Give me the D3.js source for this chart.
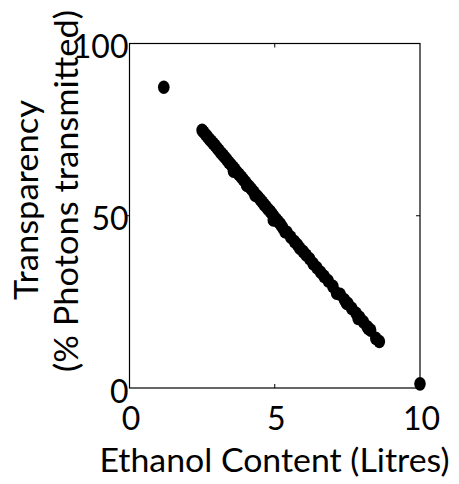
<!DOCTYPE html>
<html><head><meta charset="utf-8">
<script src="https://cdn.jsdelivr.net/npm/d3@7"></script>
<style>html,body{margin:0;padding:0;background:#fff;}svg{display:block;}</style>
</head><body>
<svg id="chart" width="459" height="484"></svg>
<script>
const ethanol = [1.18,
  2.50,2.55,2.62,2.68,2.75,2.81,2.88,2.95,3.02,3.08,3.15,3.22,3.28,3.35,3.42,3.50,3.56,3.58,3.63,3.70,
  3.77,3.85,3.92,4.00,4.03,4.06,4.13,4.20,4.28,4.32,4.35,4.42,4.50,4.57,4.63,4.70,4.77,4.85,4.92,4.95,
  4.98,5.05,5.12,5.20,5.27,5.35,5.42,5.55,5.68,5.78,5.86,5.98,6.08,6.20,6.32,6.45,6.58,6.70,6.84,7.00,
  7.13,7.25,7.40,7.47,7.52,7.65,7.80,7.87,7.92,8.05,8.18,8.22,8.30,8.48,8.60,
  10.0];
const transparency = [87.3,
  74.8,74.3,73.6,73.0,72.2,71.7,71.0,70.4,69.6,69.0,68.2,67.6,67.0,66.3,65.5,64.8,64.1,62.9,63.5,62.6,
  62.0,61.2,60.5,59.7,58.9,58.9,58.4,57.7,56.9,56.0,56.1,55.5,54.7,54.0,53.3,52.7,51.9,51.2,50.4,48.8,
  49.7,49.0,48.3,47.5,46.6,45.4,45.2,43.8,42.5,41.6,40.6,39.6,38.6,37.5,36.1,34.9,33.6,32.4,31.1,29.5,
  27.5,27.2,25.6,24.6,24.5,23.1,21.7,20.2,20.5,19.2,17.8,17.3,16.8,14.4,13.5,
  1.2];
const xTicks = [0, 5, 10];
const yTicks = [0, 50, 100];
const xLabel = "Ethanol Content (Litres)";
const yLabelLines = ["Transparency", "(% Photons transmitted)"];

const FONT = "Lato, 'Noto Sans', sans-serif";
const svg = d3.select("#chart");
const L = 129.5, R = 420, T = 43.5, B = 388;
const x = d3.scaleLinear().domain([0, 10]).range([L, R]);
const y = d3.scaleLinear().domain([0, 100]).range([B, T]);

// frame
svg.append("rect").attr("x", L).attr("y", T).attr("width", R - L).attr("height", B - T)
  .attr("fill", "none").attr("stroke", "#000").attr("stroke-width", 1.2);

// ticks
const tl = 4;
svg.append("g").selectAll("line").data(xTicks.slice(1, -1)).join("line")
  .attr("x1", d => x(d)).attr("x2", d => x(d)).attr("y1", B).attr("y2", B - tl)
  .attr("stroke", "#000").attr("stroke-width", 1);
svg.append("g").selectAll("line").data(xTicks.slice(1, -1)).join("line")
  .attr("x1", d => x(d)).attr("x2", d => x(d)).attr("y1", T).attr("y2", T + tl)
  .attr("stroke", "#000").attr("stroke-width", 1);
svg.append("g").selectAll("line").data(yTicks.slice(1, -1)).join("line")
  .attr("x1", R).attr("x2", R - tl).attr("y1", d => y(d)).attr("y2", d => y(d))
  .attr("stroke", "#000").attr("stroke-width", 1);
svg.append("g").selectAll("line").data(yTicks.slice(1, -1)).join("line")
  .attr("x1", L).attr("x2", L - 3).attr("y1", d => y(d)).attr("y2", d => y(d))
  .attr("stroke", "#000").attr("stroke-width", 1);

// tick labels
svg.append("g").selectAll("text").data(xTicks).join("text")
  .attr("x", d => x(d) + 1.5).attr("y", 430)
  .attr("text-anchor", "middle").attr("font-family", FONT).attr("font-size", 32)
  .text(d => d);
svg.append("g").selectAll("text").data(yTicks).join("text")
  .attr("x", L - 1).attr("y", d => y(d) + 14.5)
  .attr("text-anchor", "end").attr("font-family", FONT).attr("font-size", 32)
  .text(d => d);

// axis labels
svg.append("text").attr("x", 274.5).attr("y", 472)
  .attr("text-anchor", "middle").attr("font-family", FONT).attr("font-size", 32)
  .attr("textLength", 350).attr("lengthAdjust", "spacingAndGlyphs")
  .text(xLabel);
const yl = [{t: yLabelLines[0], bx: 38, cy: 200, len: 200}, {t: yLabelLines[1], bx: 78, cy: 191, len: 362}];
svg.append("g").selectAll("text").data(yl).join("text")
  .attr("transform", d => `translate(${d.bx},${d.cy}) rotate(-90)`)
  .attr("text-anchor", "middle").attr("font-family", FONT).attr("font-size", 32)
  .attr("textLength", d => d.len).attr("lengthAdjust", "spacingAndGlyphs")
  .text(d => d.t);

// points
svg.append("g").selectAll("ellipse").data(ethanol.map((e, i) => [e, transparency[i]])).join("ellipse")
  .attr("cx", d => x(d[0])).attr("cy", d => y(d[1]))
  .attr("rx", 5.8).attr("ry", 6.8).attr("fill", "#000");
</script>
</body></html>
